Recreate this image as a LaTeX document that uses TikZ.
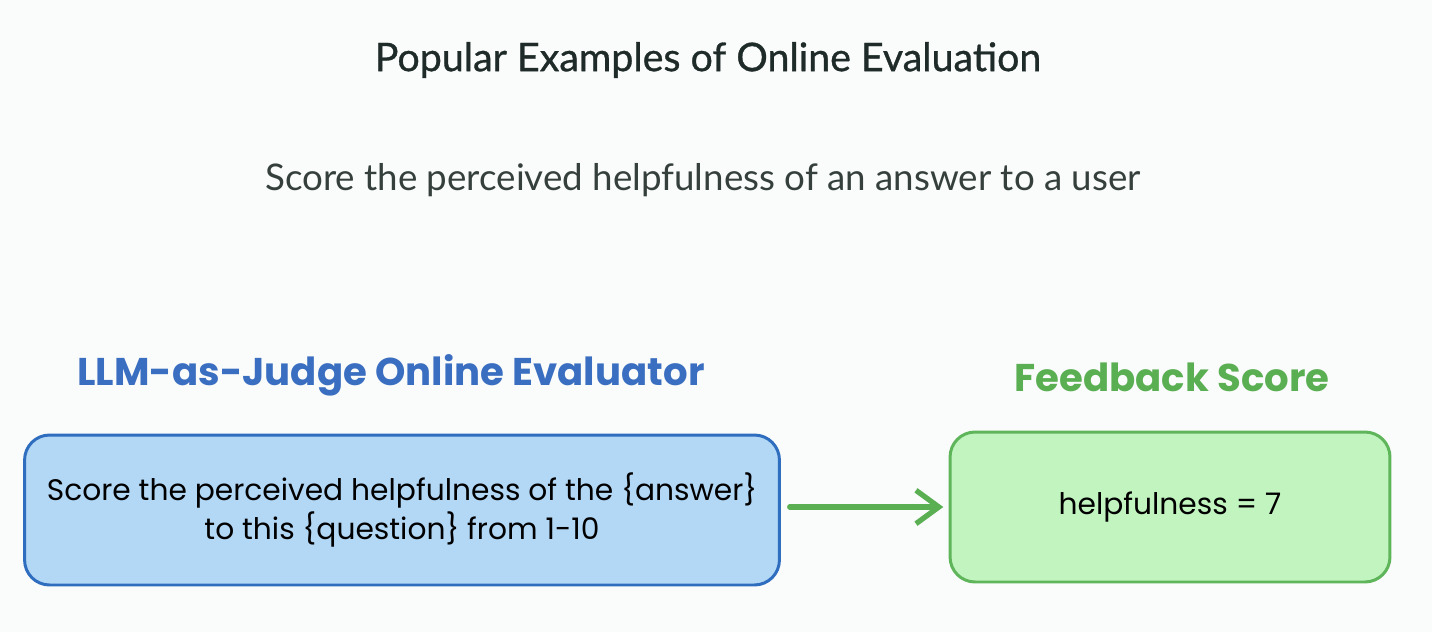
\documentclass[tikz,border=0pt]{standalone}
\usepackage{fontspec}
\setmainfont{Lato}
\newfontfamily\handfont{Poppins}
\newfontfamily\titlefont{Lato}[FakeBold=0.8]
\usetikzlibrary{arrows.meta, positioning, calc}
\usepackage{xcolor}

\definecolor{bgpage}{HTML}{FAFBFB}
\definecolor{inkdark}{HTML}{1E2B28}
\definecolor{judgeblue}{HTML}{3A6EC0}
\definecolor{judgefill}{HTML}{B3D8F6}
\definecolor{judgeline}{HTML}{2F6DBF}
\definecolor{scoregreen}{HTML}{5AAF52}
\definecolor{scorefill}{HTML}{C1F4BF}
\definecolor{scoreline}{HTML}{5FB55A}

\begin{document}
\begin{tikzpicture}[x=0.02cm, y=-0.02cm,
  box/.style={rounded corners=0.5cm, line width=1.7pt, minimum height=3cm,
              align=center, font=\handfont\fontsize{16.9}{22}\selectfont, text=black},
  head/.style={font=\handfont\bfseries\fontsize{22}{26}\selectfont},
  flow/.style={-{Straight Barb[length=13pt, width=19pt]}, line width=3pt,
               line cap=round, line join=round, scoregreen}
]
  % Page
  \fill[bgpage] (0,0) rectangle (1432,632);
  \useasboundingbox (0,0) rectangle (1432,632);

  % Titles
  \node[text=inkdark, font=\titlefont\fontsize{22.4}{26}\selectfont] (title) at (708,60)
    {Popular Examples of Online Evaluation};
  \node[text=inkdark!90, font=\fontsize{20.9}{25}\selectfont] (sub) at (703,180)
    {Score the perceived helpfulness of an answer to a user};

  % Boxes
  \node[box, draw=judgeline, fill=judgefill, minimum width=15.1cm] (judge) at (402,510)
    {Score the perceived helpfulness of the \{answer\}\\to this \{question\} from 1-10};
  \node[box, draw=scoreline, fill=scorefill, minimum width=8.8cm] (score) at (1170,507)
    {helpfulness = 7};

  % Headings above the boxes
  \node[head, text=judgeblue] (judgehead) at (391,375) {LLM-as-Judge Online Evaluator};
  \node[head, text=scoregreen] (scorehead) at (1172,377) {Feedback Score};

  % Connector
  \draw[flow, shorten <=5pt, shorten >=3pt] (judge.east |- score.west) -- (score.west);

\end{tikzpicture}
\end{document}
